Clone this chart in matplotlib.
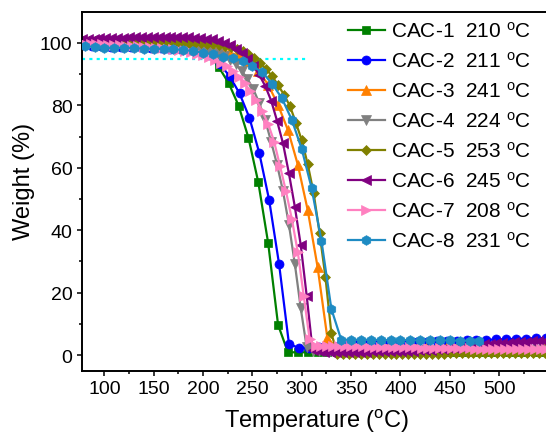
import numpy as np
import matplotlib
matplotlib.use("Agg")
import matplotlib.pyplot as plt

plt.rcParams['font.family'] = ['Liberation Sans', 'DejaVu Sans']
plt.rcParams['mathtext.fontset'] = 'custom'
plt.rcParams['mathtext.rm'] = 'Liberation Sans'
plt.rcParams['mathtext.it'] = 'Liberation Sans:italic'
plt.rcParams['mathtext.bf'] = 'Liberation Sans:bold'

# ---------------- data ----------------
names = ['CAC-1', 'CAC-2', 'CAC-3', 'CAC-4', 'CAC-5', 'CAC-6', 'CAC-7', 'CAC-8']
t5_values = [210, 211, 241, 224, 253, 245, 208, 231]

temp_c1 = np.arange(76, 547, 10)
weight_c1 = [100.0, 100.0, 100.1, 100.1, 100.1, 100.1, 100.0, 100.0, 99.9, 99.8,
             99.6, 99.2, 98.3, 96.4, 92.2, 87.1, 79.9, 69.6, 55.3, 35.8,
             9.7, 0.9, 0.9, 0.9, 0.9, 0.9, 0.9, 0.9, 1.0, 1.0,
             1.0, 1.0, 1.0, 1.0, 1.0, 1.0, 1.0, 1.0, 1.1, 1.1,
             1.1, 1.1, 1.1, 1.1, 1.1, 1.1, 1.1, 1.1]

temp_c2 = np.arange(77, 548, 10)
weight_c2 = [99.2, 99.0, 98.9, 98.8, 98.8, 98.7, 98.6, 98.5, 98.4, 98.2,
             98.0, 97.6, 97.0, 96.0, 93.2, 89.3, 83.8, 76.0, 64.7, 49.6,
             29.2, 3.7, 2.2, 2.4, 2.6, 2.8, 3.0, 3.2, 3.4, 3.5,
             3.7, 3.8, 3.9, 4.0, 4.1, 4.2, 4.4, 4.5, 4.6, 4.7,
             4.8, 4.9, 5.0, 5.1, 5.2, 5.3, 5.4, 5.5]

temp_c3 = np.arange(76, 547, 10)
weight_c3 = [100.3, 100.3, 100.3, 100.3, 100.3, 100.2, 100.2, 100.1, 100.0, 99.9,
             99.7, 99.4, 99.0, 98.5, 97.8, 97.0, 96.0, 94.2, 91.0, 86.6,
             80.1, 72.1, 61.0, 46.5, 28.3, 5.4, 2.0, 2.0, 2.0, 2.0,
             2.0, 2.1, 2.1, 2.1, 2.1, 2.2, 2.2, 2.2, 2.2, 2.3,
             2.3, 2.3, 2.3, 2.4, 2.4, 2.4, 2.4, 2.5]

temp_c4 = np.arange(77, 546, 6)
weight_c4 = [100.0, 100.0, 100.0, 100.0, 100.0, 100.0, 99.9, 99.9, 99.9, 99.8,
             99.8, 99.7, 99.6, 99.5, 99.4, 99.2, 99.0, 98.8, 98.5, 98.2,
             97.8, 97.4, 96.9, 96.4, 95.7, 94.6, 93.1, 91.1, 88.5, 85.1,
             80.7, 75.2, 68.3, 61.0, 52.5, 41.8, 29.2, 15.0, 2.5, 1.4,
             1.4, 1.4, 1.4, 1.4, 1.4, 1.4, 1.4, 1.4, 1.4, 1.4,
             1.5, 1.5, 1.5, 1.5, 1.5, 1.5, 1.5, 1.5, 1.5, 1.5,
             1.5, 1.5, 1.5, 1.5, 1.5, 1.6, 1.6, 1.6, 1.6, 1.6,
             1.6, 1.6, 1.6, 1.6, 1.6, 1.6, 1.6, 1.6, 1.6]

temp_c5 = np.arange(78, 547, 6)
weight_c5 = [100.7, 100.7, 100.7, 100.7, 100.7, 100.7, 100.7, 100.7, 100.7, 100.7,
             100.6, 100.6, 100.6, 100.5, 100.5, 100.4, 100.3, 100.2, 100.1, 100.0,
             99.9, 99.8, 99.6, 99.4, 99.1, 98.7, 98.2, 97.5, 96.5, 95.2,
             93.6, 91.6, 89.3, 86.5, 83.4, 79.8, 74.5, 68.8, 61.2, 52.0,
             39.2, 25.0, 7.0, 0.4, 0.4, 0.4, 0.4, 0.4, 0.4, 0.4,
             0.4, 0.4, 0.5, 0.5, 0.5, 0.5, 0.5, 0.5, 0.5, 0.5,
             0.5, 0.5, 0.6, 0.6, 0.6, 0.6, 0.6, 0.6, 0.6, 0.6,
             0.6, 0.6, 0.7, 0.7, 0.7, 0.7, 0.7, 0.7, 0.7]

temp_c6 = np.arange(77, 546, 6)
weight_c6 = [101.2, 101.3, 101.4, 101.5, 101.5, 101.6, 101.7, 101.7, 101.8, 101.8,
             101.9, 101.9, 101.9, 101.9, 101.9, 101.9, 101.9, 101.9, 101.8, 101.7,
             101.6, 101.4, 101.1, 100.7, 100.1, 99.3, 98.2, 96.8, 95.0, 92.6,
             89.7, 86.2, 81.5, 75.0, 67.8, 58.2, 47.5, 35.2, 19.0, 1.5,
             1.2, 1.1, 1.1, 1.1, 1.1, 1.1, 1.1, 1.1, 1.1, 1.2,
             1.2, 1.2, 1.2, 1.3, 1.3, 1.4, 1.4, 1.5, 1.6, 1.7,
             1.8, 2.0, 2.2, 2.4, 2.6, 2.8, 3.0, 3.2, 3.4, 3.6,
             3.8, 3.9, 4.0, 4.1, 4.2, 4.3, 4.4, 4.5, 4.6]

temp_c7 = np.arange(80, 549, 6)
weight_c7 = [99.8, 99.7, 99.6, 99.5, 99.4, 99.3, 99.2, 99.1, 99.0, 98.9,
             98.8, 98.6, 98.5, 98.3, 98.1, 97.9, 97.6, 97.3, 97.0, 96.6,
             96.2, 95.6, 94.6, 93.6, 92.5, 91.0, 89.2, 87.1, 84.5, 81.6,
             78.2, 74.0, 68.4, 60.5, 52.5, 43.5, 33.0, 19.0, 5.0, 2.8,
             2.9, 2.9, 2.9, 2.9, 2.9, 2.8, 2.8, 2.8, 2.7, 2.7,
             2.7, 2.6, 2.6, 2.6, 2.5, 2.5, 2.5, 2.4, 2.4, 2.4,
             2.3, 2.3, 2.3, 2.2, 2.2, 2.2, 2.1, 2.1, 2.1, 2.0,
             2.0, 2.0, 1.9, 1.9, 1.9, 1.8, 1.8, 1.8, 1.8]

temp_c8 = np.arange(80, 481, 10)
weight_c8 = [99.1, 98.6, 98.4, 98.4, 98.4, 98.3, 98.2, 98.1, 98.1, 98.0,
             97.7, 97.4, 96.9, 96.3, 95.6, 95.1, 94.3, 92.6, 90.6, 86.9,
             82.2, 75.3, 66.0, 53.5, 36.5, 14.8, 4.9, 4.9, 4.9, 4.9,
             4.8, 4.8, 4.8, 4.8, 4.7, 4.7, 4.7, 4.7, 4.6, 4.6,
             4.6]

t5_line_temp = [77, 307]
t5_line_weight = [95, 95]

temps = [temp_c1, temp_c2, temp_c3, temp_c4, temp_c5, temp_c6, temp_c7, temp_c8]
weights = [weight_c1, weight_c2, weight_c3, weight_c4, weight_c5, weight_c6, weight_c7, weight_c8]

colors = ['#008000', '#0000FF', '#FF8000', '#808080', '#808000', '#800080', '#FF80C0', '#1E8BC3']
markers = ['s', 'o', '^', 'v', 'D', '<', '>', 'h']
msizes = [5.5, 6.5, 6.5, 6.5, 5.5, 6.5, 6.5, 7]

# ---------------- figure ----------------
fig = plt.figure(figsize=(5.46, 4.39), dpi=100)
ax = fig.add_axes([0.1496, 0.1533, 1.0 - 0.1496, 0.9697 - 0.1533])

ax.plot(t5_line_temp, t5_line_weight, color='#00FFFF', lw=1.6,
        linestyle=(0, (1.4, 1.9)), zorder=1.5)

for i in range(8):
    ax.plot(temps[i], weights[i], color=colors[i], marker=markers[i],
            markersize=msizes[i], lw=1.6, markeredgewidth=0.5,
            markeredgecolor=colors[i],
            label=f'{names[i]}  {t5_values[i]} $^{{\\mathrm{{o}}}}$C',
            zorder=2 + i * 0.1)

ax.set_xlim(77, 547.5)
ax.set_ylim(-5, 109.8)
ax.set_xticks(np.arange(100, 501, 50))
ax.set_xticks(np.arange(125, 547, 50), minor=True)
ax.set_yticks(np.arange(0, 101, 20))
ax.set_yticks(np.arange(10, 110, 20), minor=True)

for s in ['left', 'bottom', 'top']:
    ax.spines[s].set_linewidth(1.4)
ax.spines['right'].set_visible(False)
ax.tick_params(axis='both', which='major', direction='out', length=3.6, width=1.1,
               labelsize=14, pad=3)
ax.tick_params(axis='both', which='minor', direction='out', length=2.0, width=1.1)
ax.tick_params(axis='x', which='both', top=False)
ax.tick_params(axis='y', which='both', right=False)

ax.set_xlabel('Temperature ($^{\\mathrm{o}}$C)', fontsize=17)
ax.set_ylabel('Weight (%)', fontsize=17)
ax.xaxis.set_label_coords(0.505, -0.10)
ax.yaxis.set_label_coords(-0.10, 0.53)

leg = ax.legend(loc='upper left', bbox_to_anchor=(347.5 / 546, 1 - 22 / 439),
                bbox_transform=fig.transFigure, frameon=False, fontsize=15,
                handlelength=1.78, handletextpad=0.3, labelspacing=0.48,
                borderpad=0, borderaxespad=0)

fig.savefig('out.png', dpi=100)
